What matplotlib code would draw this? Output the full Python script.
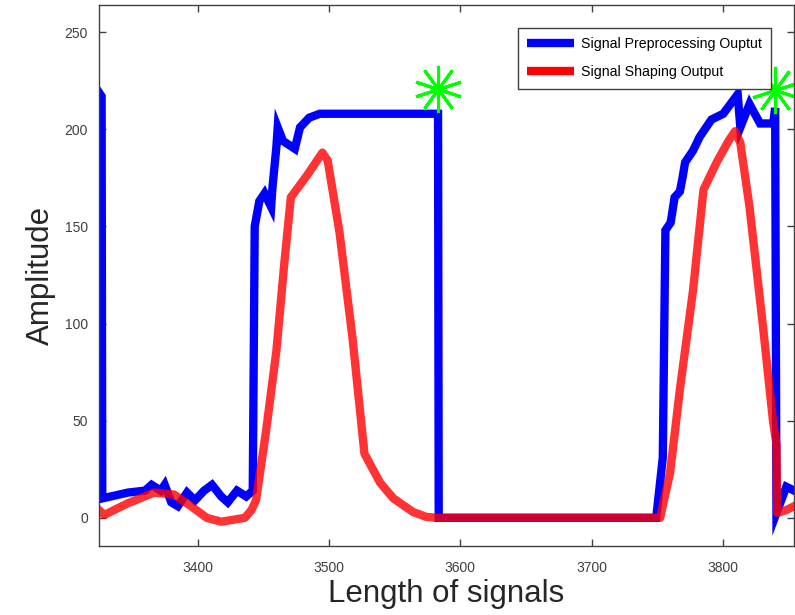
import matplotlib
matplotlib.use("Agg")
import matplotlib.pyplot as plt

# signal preprocessing output (blue)
pre_x = [3325, 3327, 3327.5, 3334, 3347, 3360, 3365, 3372, 3375, 3380, 3385, 3392, 3398,
         3405, 3411, 3418, 3423, 3430, 3437, 3442, 3443.5, 3447, 3451, 3456, 3457, 3460,
         3461, 3465, 3474, 3478, 3485, 3493, 3583, 3583.5, 3749, 3754, 3756, 3760, 3763,
         3767, 3769, 3771, 3777, 3782, 3791, 3800, 3811, 3813, 3820, 3828, 3838, 3839.5,
         3840.5, 3848, 3854]
pre_y = [219, 217, 10, 11, 13, 14, 17, 14, 17, 8, 6, 13, 9,
         14, 17, 11, 8, 14, 11, 14, 150, 163, 167, 160, 170, 191,
         201, 194, 190, 201, 206, 208, 208, 0, 0, 31, 148, 152, 165,
         168, 175, 183, 189, 196, 205, 208, 218, 201, 213, 203, 203, 211,
         2.5, 16, 14]

# signal shaping output (red)
shape_x = [3325, 3329, 3347, 3367, 3382, 3395, 3407, 3418, 3436, 3441, 3444.5, 3452,
           3460, 3466, 3471, 3483, 3495, 3499, 3508, 3518, 3527, 3539, 3549, 3564, 3574,
           3583, 3752, 3759.5, 3767, 3777, 3785, 3795, 3804, 3809, 3813, 3820, 3830, 3838,
           3840.5, 3841, 3848, 3854]
shape_y = [4, 1.5, 7.5, 13, 12, 6, 0, -2, 0, 4, 9, 44,
           86, 131, 165, 176, 188, 184, 147, 92, 33, 18, 10, 3, 0.5,
           0, 0, 23, 66, 117, 169, 183, 194, 199, 193, 160, 100, 49,
           38, 2.5, 4, 6]

# detected peaks
peak_x = [3583, 3839.5]
peak_y = [221, 220]

plt.rcParams['font.family'] = ['Liberation Sans', 'DejaVu Sans']

fig = plt.figure(figsize=(7.95, 6.15), dpi=100)
ax = fig.add_axes([0.1245, 0.1122, 0.8745, 0.8797])

ax.plot(pre_x, pre_y, color='#0000ff', lw=6, solid_joinstyle='miter',
        label='Signal Preprocessing Ouptut')
ax.plot(shape_x, shape_y, color='#ff0000', lw=6, alpha=0.8,
        label='Signal Shaping Output')
ax.plot(peak_x, peak_y, ls='none', marker=(10, 2, 0), markersize=34,
        markeredgewidth=2.2, color='#00ff00', clip_on=False)

ax.set_xlim(3325, 3854)
ax.set_ylim(-14.5, 264)
ax.set_xticks([3400, 3500, 3600, 3700, 3800])
ax.set_yticks([0, 50, 100, 150, 200, 250])

ax.tick_params(direction='in', length=5, width=1, top=True, right=True,
               labelsize=10, labelcolor='#404040', color='#404040', pad=11)
ax.tick_params(axis='y', pad=8)
for s in ax.spines.values():
    s.set_color('#404040')
    s.set_linewidth(1)

ax.set_xlabel('Length of signals', fontsize=22.5, color='#262626', labelpad=3)
ax.set_ylabel('Amplitude', fontsize=22.5, color='#262626', labelpad=6)

leg = ax.legend(loc='upper right', bbox_to_anchor=(0.967, 0.9575), fontsize=10.2,
                fancybox=False, framealpha=1, edgecolor='#404040', borderaxespad=0,
                handlelength=3.3, handletextpad=0.5, borderpad=0.65, labelspacing=1.0)
leg.get_frame().set_linewidth(1)
for line in leg.get_lines():
    line.set_linewidth(6)
    line.set_alpha(1)
    line.set_solid_capstyle('butt')

fig.savefig('out.png', dpi=100)
